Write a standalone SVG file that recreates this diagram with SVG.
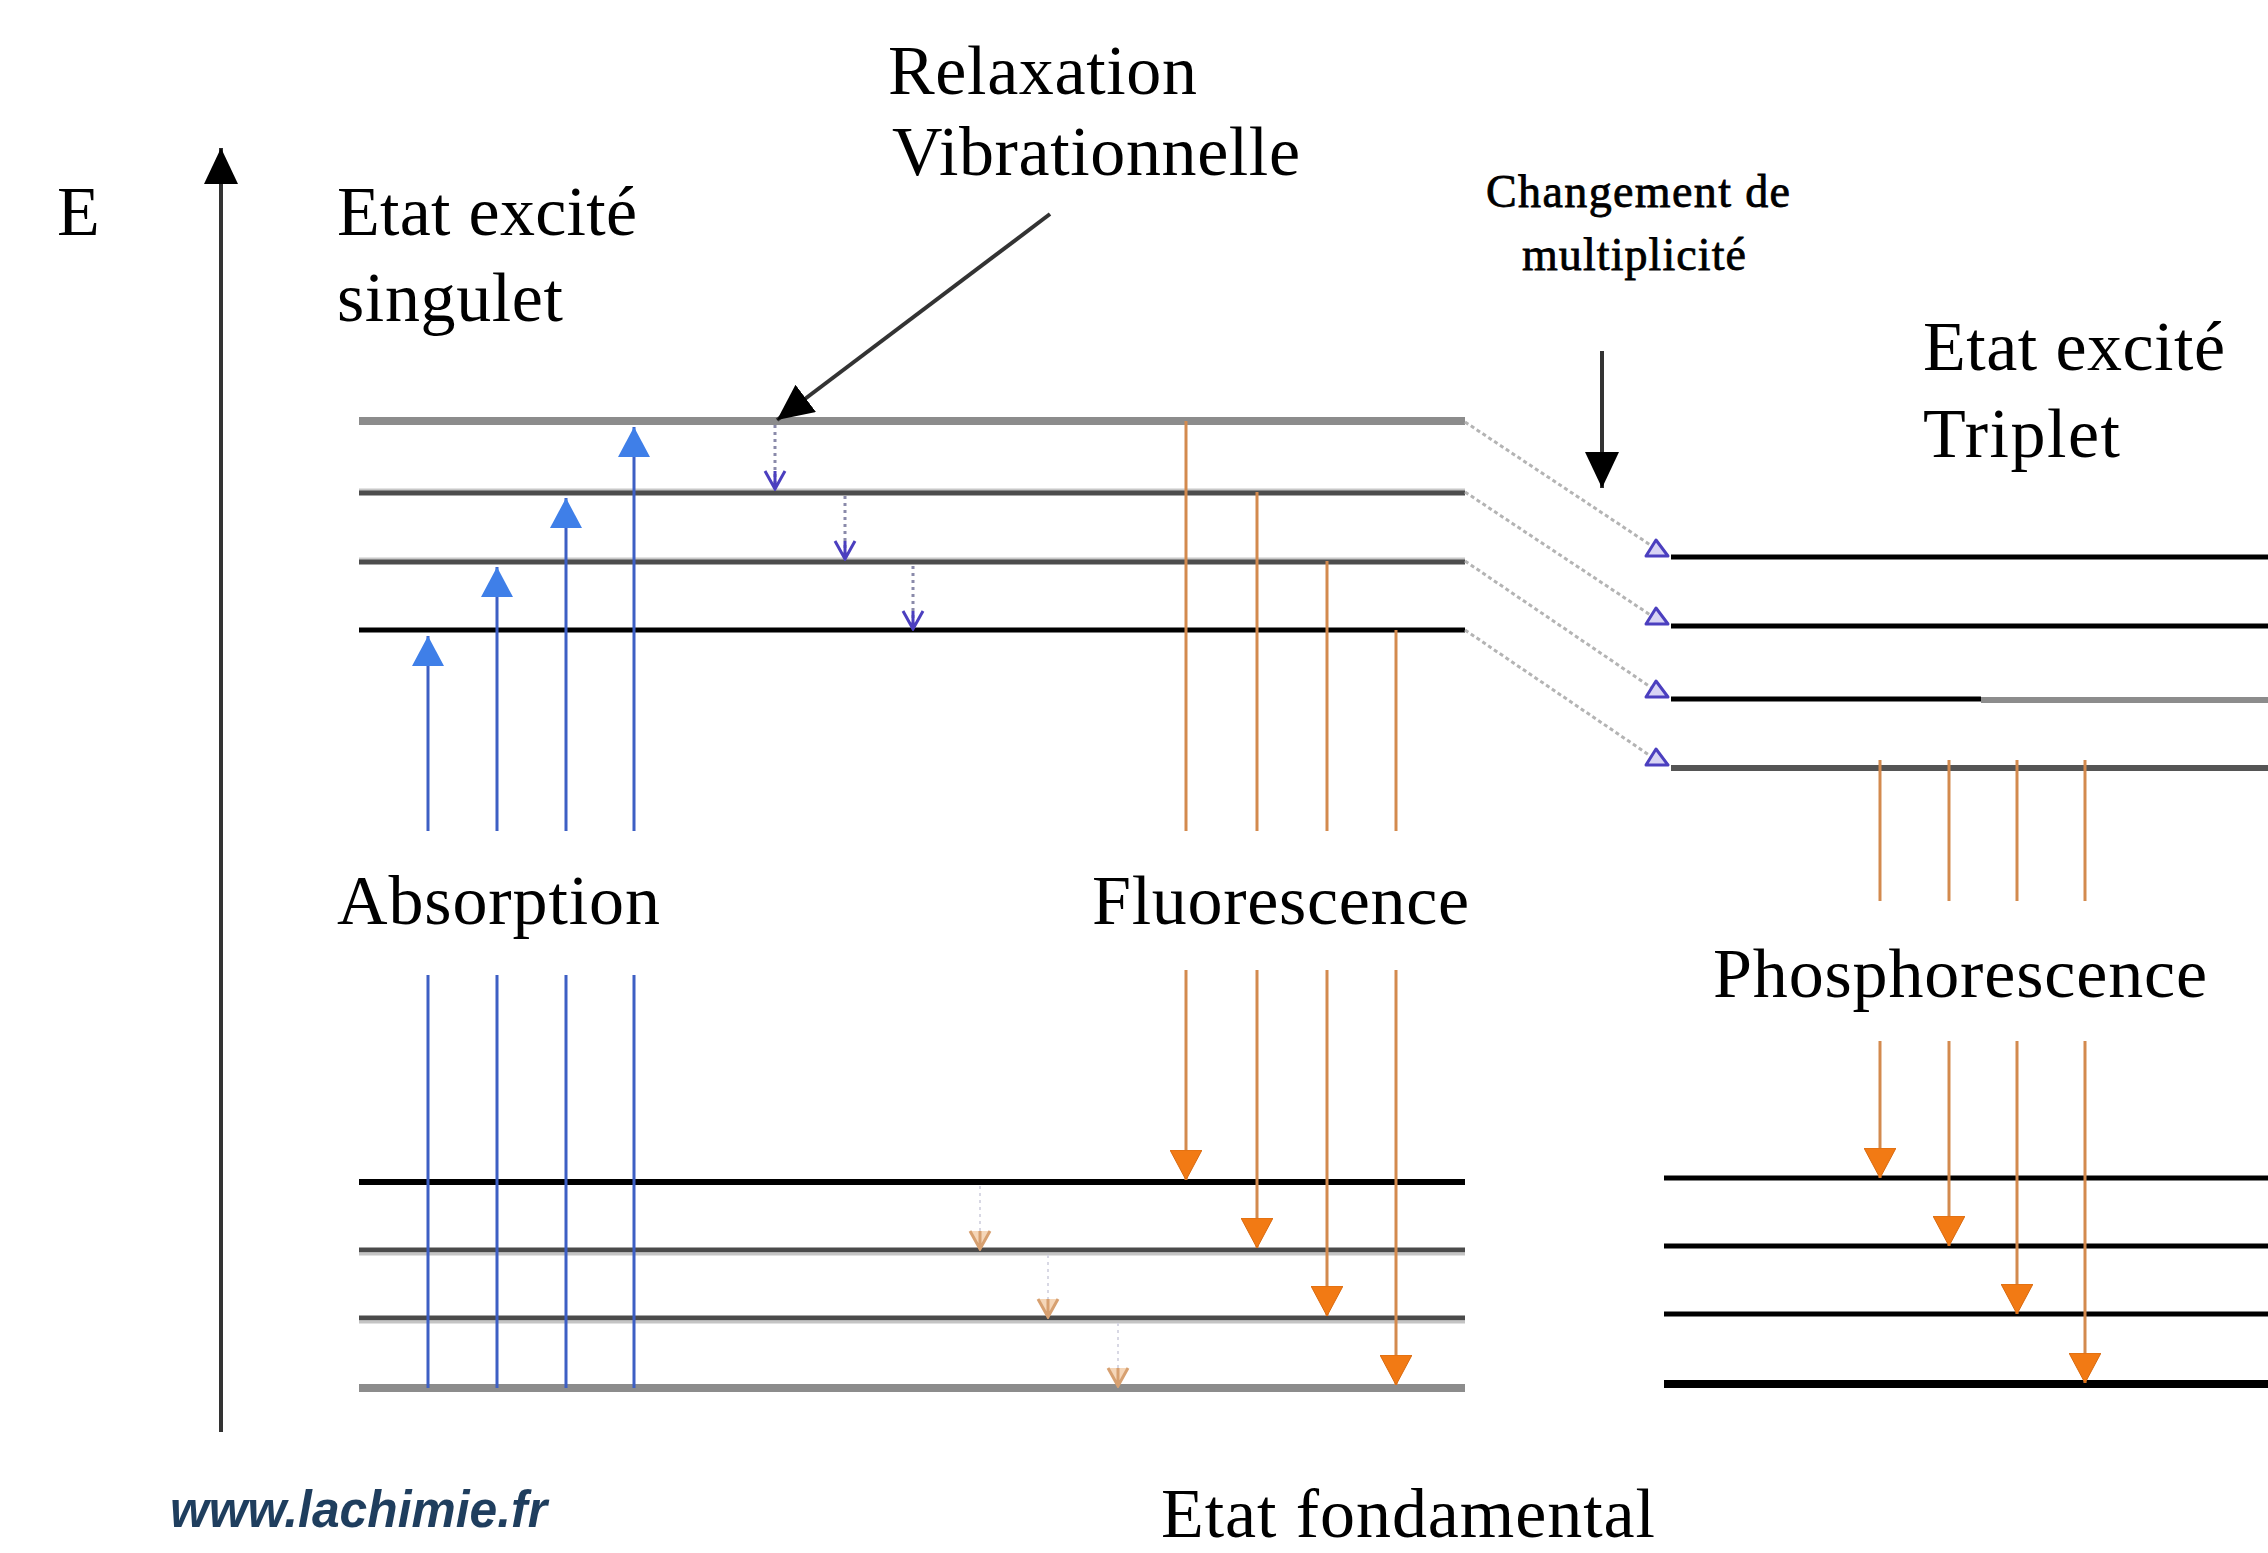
<svg xmlns="http://www.w3.org/2000/svg" width="2268" height="1553" viewBox="0 0 2268 1553">
<style>
.lbl{font-family:"Liberation Serif","Times New Roman",serif;font-size:70px;fill:#000}
.sml{font-family:"Liberation Serif","Times New Roman",serif;font-size:46px;fill:#000;stroke:#000;stroke-width:0.8}
.web{font-family:"Liberation Sans",Arial,sans-serif;font-size:52px;font-style:italic;font-weight:bold;fill:#1f3e5e}
.blue{stroke:#3d5fc4;stroke-width:3;fill:none}
.orange{stroke:#d38a4e;stroke-width:3;fill:none}
.black{stroke:#333;stroke-width:4;fill:none}
.diag{stroke:#b4b4b4;stroke-width:3;stroke-dasharray:4 3;fill:none}
.dotb{stroke:#8a8aaa;stroke-width:3;stroke-dasharray:3 4;fill:none}
.doto{stroke:#d8d8e4;stroke-width:2;stroke-dasharray:3 4;fill:none}
</style>
<defs>
<marker id="headBlack" viewBox="0 0 36 34" refX="36" refY="17" markerWidth="36" markerHeight="34" markerUnits="userSpaceOnUse" orient="auto">
<path d="M0,0 L36,17 L0,34 z" fill="#000"/>
</marker>
<marker id="headBlue" viewBox="0 0 30 32" refX="30" refY="16" markerWidth="30" markerHeight="32" markerUnits="userSpaceOnUse" orient="auto">
<path d="M0,0 L30,16 L0,32 z" fill="#3f7fe8"/>
</marker>
<marker id="headOrange" viewBox="0 0 30 32" refX="30" refY="16" markerWidth="30" markerHeight="32" markerUnits="userSpaceOnUse" orient="auto">
<path d="M0,0 L30,16 L0,32 z" fill="#f27a14" stroke="#d86a10" stroke-width="1"/>
</marker>
<marker id="vBlue" viewBox="0 0 22 24" refX="20" refY="12" markerWidth="22" markerHeight="24" markerUnits="userSpaceOnUse" orient="auto">
<path d="M2,2 L20,12 L2,22 M2,12 L20,12" fill="none" stroke="#4b3fbf" stroke-width="3"/>
</marker>
<marker id="vOrange" viewBox="0 0 22 24" refX="20" refY="12" markerWidth="22" markerHeight="24" markerUnits="userSpaceOnUse" orient="auto">
<path d="M2,2 L20,12 L2,22 M2,12 L20,12" fill="#f5d6b8" stroke="#d7a070" stroke-width="3"/>
</marker>
</defs>
<rect width="2268" height="1553" fill="#fff"/>

<g id="singlet-levels">
<line x1="359" y1="421" x2="1465" y2="421" stroke="#8c8c8c" stroke-width="8"/>
<line x1="359" y1="490" x2="1465" y2="490" stroke="#c8c8c8" stroke-width="3"/>
<line x1="359" y1="493" x2="1465" y2="493" stroke="#4d4d4d" stroke-width="5"/>
<line x1="359" y1="559" x2="1465" y2="559" stroke="#c8c8c8" stroke-width="3"/>
<line x1="359" y1="562" x2="1465" y2="562" stroke="#4d4d4d" stroke-width="5"/>
<line x1="359" y1="630" x2="1465" y2="630" stroke="#000" stroke-width="5"/>
</g>

<g id="triplet-levels">
<line x1="1671" y1="557" x2="2268" y2="557" stroke="#000" stroke-width="5"/>
<line x1="1671" y1="626" x2="2268" y2="626" stroke="#000" stroke-width="5"/>
<line x1="1671" y1="699" x2="1981" y2="699" stroke="#000" stroke-width="5"/>
<line x1="1981" y1="700" x2="2268" y2="700" stroke="#8c8c8c" stroke-width="6"/>
<line x1="1671" y1="768" x2="2268" y2="768" stroke="#555" stroke-width="6"/>
</g>

<g id="ground-levels">
<line x1="359" y1="1182" x2="1465" y2="1182" stroke="#000" stroke-width="6"/>
<line x1="359" y1="1250" x2="1465" y2="1250" stroke="#4a4a4a" stroke-width="5"/>
<line x1="359" y1="1254" x2="1465" y2="1254" stroke="#c4c4c4" stroke-width="3"/>
<line x1="359" y1="1318" x2="1465" y2="1318" stroke="#4a4a4a" stroke-width="5"/>
<line x1="359" y1="1322" x2="1465" y2="1322" stroke="#c4c4c4" stroke-width="3"/>
<line x1="359" y1="1388" x2="1465" y2="1388" stroke="#8c8c8c" stroke-width="8"/>
</g>

<g id="triplet-ground-levels">
<line x1="1664" y1="1178" x2="2268" y2="1178" stroke="#000" stroke-width="5"/>
<line x1="1664" y1="1246" x2="2268" y2="1246" stroke="#000" stroke-width="5"/>
<line x1="1664" y1="1314" x2="2268" y2="1314" stroke="#000" stroke-width="5"/>
<line x1="1664" y1="1384" x2="2268" y2="1384" stroke="#000" stroke-width="8"/>
</g>

<g id="labels">
<text class="lbl" x="57" y="235">E</text>
<text class="lbl" x="337" y="235" textLength="300" lengthAdjust="spacing">Etat excité</text>
<text class="lbl" x="337" y="321" textLength="226" lengthAdjust="spacing">singulet</text>
<text class="lbl" x="888" y="94" textLength="309" lengthAdjust="spacing">Relaxation</text>
<text class="lbl" x="892" y="175" textLength="408" lengthAdjust="spacing">Vibrationnelle</text>
<text class="sml" x="1486" y="207" textLength="304" lengthAdjust="spacing">Changement de</text>
<text class="sml" x="1522" y="270" textLength="224" lengthAdjust="spacing">multiplicité</text>
<text class="lbl" x="1923" y="370" textLength="302" lengthAdjust="spacing">Etat excité</text>
<text class="lbl" x="1923" y="457" textLength="197" lengthAdjust="spacing">Triplet</text>
<text class="lbl" x="337" y="924" textLength="323" lengthAdjust="spacing">Absorption</text>
<text class="lbl" x="1092" y="924" textLength="377" lengthAdjust="spacing">Fluorescence</text>
<text class="lbl" x="1713" y="997" textLength="494" lengthAdjust="spacing">Phosphorescence</text>
<text class="lbl" x="1161" y="1537" textLength="494" lengthAdjust="spacing">Etat fondamental</text>
<text class="web" x="170" y="1527" textLength="377" lengthAdjust="spacingAndGlyphs">www.lachimie.fr</text>
</g>

<g id="connectors">
<line class="black" x1="221" y1="1432" x2="221" y2="148" marker-end="url(#headBlack)"/>
<line class="black" x1="1050" y1="214" x2="777" y2="420" marker-end="url(#headBlack)"/>
<line class="black" x1="1602" y1="351" x2="1602" y2="488" marker-end="url(#headBlack)"/>

<line class="blue" x1="428" y1="1388" x2="428" y2="975"/>
<line class="blue" x1="497" y1="1388" x2="497" y2="975"/>
<line class="blue" x1="566" y1="1388" x2="566" y2="975"/>
<line class="blue" x1="634" y1="1388" x2="634" y2="975"/>
<line class="blue" x1="428" y1="831" x2="428" y2="636" marker-end="url(#headBlue)"/>
<line class="blue" x1="497" y1="831" x2="497" y2="567" marker-end="url(#headBlue)"/>
<line class="blue" x1="566" y1="831" x2="566" y2="498" marker-end="url(#headBlue)"/>
<line class="blue" x1="634" y1="831" x2="634" y2="427" marker-end="url(#headBlue)"/>

<line class="dotb" x1="775" y1="425" x2="775" y2="489" marker-end="url(#vBlue)"/>
<line class="dotb" x1="845" y1="496" x2="845" y2="559" marker-end="url(#vBlue)"/>
<line class="dotb" x1="913" y1="566" x2="913" y2="629" marker-end="url(#vBlue)"/>

<line class="orange" x1="1186" y1="421" x2="1186" y2="831"/>
<line class="orange" x1="1257" y1="492" x2="1257" y2="831"/>
<line class="orange" x1="1327" y1="561" x2="1327" y2="831"/>
<line class="orange" x1="1396" y1="630" x2="1396" y2="831"/>
<line class="orange" x1="1186" y1="970" x2="1186" y2="1180" marker-end="url(#headOrange)"/>
<line class="orange" x1="1257" y1="970" x2="1257" y2="1248" marker-end="url(#headOrange)"/>
<line class="orange" x1="1327" y1="970" x2="1327" y2="1316" marker-end="url(#headOrange)"/>
<line class="orange" x1="1396" y1="970" x2="1396" y2="1385" marker-end="url(#headOrange)"/>

<line class="doto" x1="980" y1="1186" x2="980" y2="1249" marker-end="url(#vOrange)"/>
<line class="doto" x1="1048" y1="1255" x2="1048" y2="1317" marker-end="url(#vOrange)"/>
<line class="doto" x1="1118" y1="1323" x2="1118" y2="1386" marker-end="url(#vOrange)"/>

<line class="diag" x1="1465" y1="422" x2="1655" y2="548"/>
<line class="diag" x1="1465" y1="492" x2="1655" y2="618"/>
<line class="diag" x1="1465" y1="561" x2="1655" y2="690"/>
<line class="diag" x1="1465" y1="630" x2="1655" y2="759"/>
<g fill="#d8d4f4" stroke="#4b3fbf" stroke-width="3" stroke-linejoin="round">
<path d="M1656,540 L1668,556 L1646,556 z"/>
<path d="M1656,608 L1668,624 L1646,624 z"/>
<path d="M1656,681 L1668,697 L1646,697 z"/>
<path d="M1656,749 L1668,765 L1646,765 z"/>
</g>

<line class="orange" x1="1880" y1="760" x2="1880" y2="901"/>
<line class="orange" x1="1949" y1="760" x2="1949" y2="901"/>
<line class="orange" x1="2017" y1="760" x2="2017" y2="901"/>
<line class="orange" x1="2085" y1="760" x2="2085" y2="901"/>
<line class="orange" x1="1880" y1="1041" x2="1880" y2="1178" marker-end="url(#headOrange)"/>
<line class="orange" x1="1949" y1="1041" x2="1949" y2="1246" marker-end="url(#headOrange)"/>
<line class="orange" x1="2017" y1="1041" x2="2017" y2="1314" marker-end="url(#headOrange)"/>
<line class="orange" x1="2085" y1="1041" x2="2085" y2="1383" marker-end="url(#headOrange)"/>
</g>
</svg>
